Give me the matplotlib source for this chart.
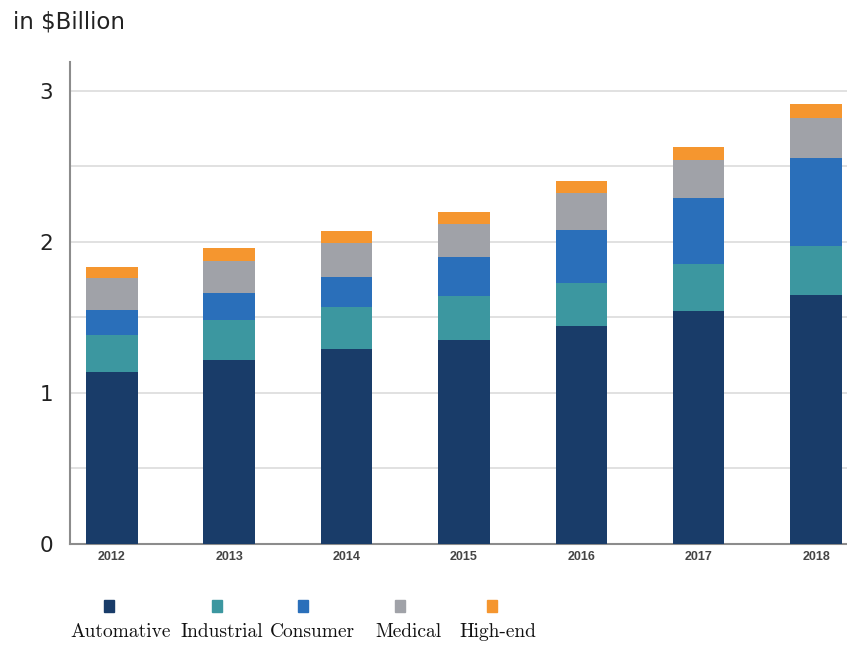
import numpy as np
import matplotlib
matplotlib.use("Agg")
import matplotlib.pyplot as plt
from matplotlib.patches import Rectangle
from matplotlib.ticker import MultipleLocator

# market size by segment, in $ billion
years = ["2012", "2013", "2014", "2015", "2016", "2017", "2018"]
automative = [1.14, 1.22, 1.29, 1.35, 1.44, 1.54, 1.65]
industrial = [0.24, 0.26, 0.28, 0.29, 0.29, 0.31, 0.32]
consumer = [0.17, 0.18, 0.20, 0.26, 0.35, 0.44, 0.585]
medical = [0.21, 0.21, 0.22, 0.22, 0.24, 0.25, 0.265]
highend = [0.075, 0.09, 0.08, 0.08, 0.08, 0.09, 0.09]

segments = ["Automative", "Industrial", "Consumer", "Medical", "High-end"]
kolory = ["#193c69", "#3c97a0", "#2a6fba", "#a0a2a8", "#f5962f"]
serie = [automative, industrial, consumer, medical, highend]

fig = plt.figure(figsize=(8.47, 6.46), dpi=100)
ax = fig.add_axes([0.0826, 0.158, 0.9174, 0.746])

x = np.arange(len(years))
dol = np.zeros(len(years))
for wart, kol in zip(serie, kolory):
    ax.bar(x, wart, width=0.44, bottom=dol, color=kol, zorder=3)
    dol += np.array(wart)

ax.set_xlim(-0.358, 6.264)
ax.set_ylim(0, 3.19)
ax.yaxis.set_major_locator(MultipleLocator(1))
ax.yaxis.set_minor_locator(MultipleLocator(0.5))
ax.grid(axis="y", which="both", color="#dcdcdc", linewidth=1.2, zorder=0)
ax.tick_params(axis="y", which="both", length=0, pad=12, labelsize=15.5, labelcolor="#222222")
ax.tick_params(axis="x", length=0, pad=5)
ax.set_xticks(x)
ax.set_xticklabels(years, fontsize=9, family="Liberation Sans", fontweight="bold", color="#444444")

for s in ["top", "right"]:
    ax.spines[s].set_visible(False)
for s in ["left", "bottom"]:
    ax.spines[s].set_color("#8c8c8c")
    ax.spines[s].set_linewidth(1.5)

fig.text(13 / 847, 1 - 22 / 646, r"in \$Billion", fontsize=16.5, color="#222222",
         va="center", ha="left")

# legend: squares above the labels
znacznik_x = [109, 217, 303, 400, 492]
etykieta_x = [121, 222, 312, 408, 498]
for nazwa, kol, mx, lx in zip(segments, kolory, znacznik_x, etykieta_x):
    fig.patches.append(Rectangle(((mx - 5) / 847, 1 - 612 / 646), 10 / 847, 12 / 646,
                                 transform=fig.transFigure, color=kol, figure=fig))
    fig.text(lx / 847, 1 - 632 / 646, nazwa, family="cmr10", fontsize=14,
             ha="center", va="center", color="#111111")

fig.savefig("out.png", dpi=100)
